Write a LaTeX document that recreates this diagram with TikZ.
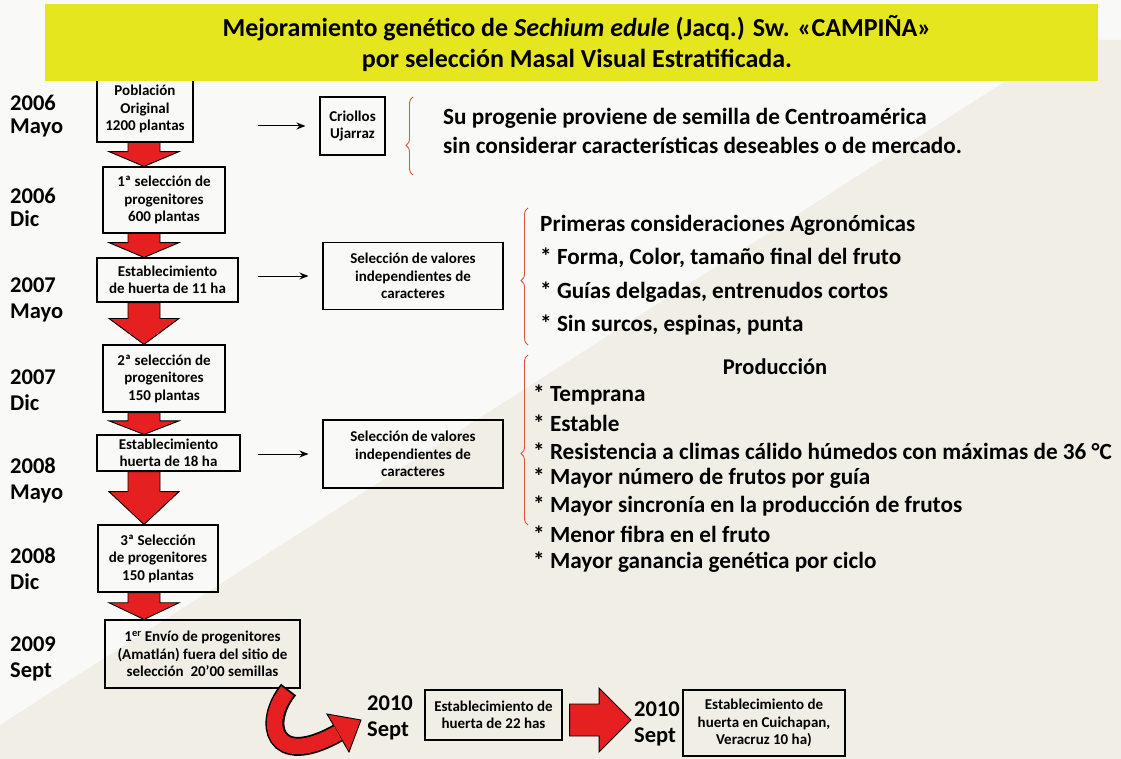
\documentclass[tikz,border=0pt]{standalone}
\usepackage{fontspec}
\setmainfont{Carlito}
\usetikzlibrary{calc,decorations.pathreplacing,arrows.meta}
\definecolor{redA}{HTML}{E62020}
\definecolor{yel}{HTML}{E6E61E}
\definecolor{braceC}{HTML}{D9553B}
\definecolor{cream}{HTML}{F1EEE5}
\definecolor{bgw}{HTML}{F9F9F8}
\newcommand\redDown[2]{%
  \path[redarrow] let \p1=(#1.south), \p2=(#2.north), \p3=($(\p1)!0.38!(\p2)$) in
  (128pt,\y1) -- (160pt,\y1) -- (160pt,\y3) -- (179pt,\y3) -- (144pt,\y2) -- (109pt,\y3) -- (128pt,\y3) -- cycle;}
\begin{document}
\begin{tikzpicture}[x=1pt,y=-1pt,
  box/.style={draw, line width=1.1pt, align=center, inner sep=0pt,
    font=\bfseries\fontsize{15}{17.5}\selectfont},
  year/.style={anchor=west, align=left, inner sep=0pt, font=\bfseries\fontsize{22.5}{26}\selectfont},
  big/.style={anchor=west, align=left, inner sep=0pt, font=\bfseries\fontsize{23.2}{29}\selectfont},
  redarrow/.style={fill=redA, draw=black, line width=0.9pt, line join=miter},
  thinarrow/.style={-{Stealth[length=9pt,width=7pt]}, line width=1pt, shorten >=14pt},
  redbrace/.style={draw=braceC, line width=0.9pt, decorate, decoration={brace, amplitude=7pt, aspect=#1}}]
% background
\fill[bgw] (0,0) rectangle (1121,759);
\fill[cream] (0,725) -- (1070,40) -- (1121,40) -- (1121,759) -- (0,759) -- cycle;
\useasboundingbox (0,0) rectangle (1121,759);

% left column boxes
\node[box, minimum width=96pt, minimum height=66pt] (b1) at (145,109) {Población\\Original\\1200 plantas};
\node[box, minimum width=122pt, minimum height=66pt] (b2) at (164,200) {1ª selección de\\progenitores\\600 plantas};
\node[box, minimum width=141pt, minimum height=44pt] (b3) at (167.5,280) {Establecimiento\\de huerta de 11 ha};
\node[box, minimum width=122pt, minimum height=67pt] (b4) at (164,378.5) {2ª selección de\\progenitores\\150 plantas};
\node[box, minimum width=143pt, minimum height=36pt] (b5) at (168.5,453) {Establecimiento\\huerta de 18 ha};
\node[box, minimum width=120pt, minimum height=67pt] (b6) at (158,558.5) {3ª Selección\\de progenitores\\150 plantas};
\node[box, minimum width=195pt, minimum height=68pt] (b7) at (202.5,654) {1\textsuperscript{er} Envío de progenitores\\(Amatlán) fuera del sitio de\\selección\ \ 20’00 semillas};
\node[box, minimum width=137pt, minimum height=50pt] (b8) at (493.5,715) {Establecimiento de\\huerta de 22 has};
\node[box, minimum width=162pt, minimum height=66pt] (b9) at (764,723) {Establecimiento de\\huerta en Cuichapan,\\Veracruz 10 ha)};

% middle boxes
\node[box, minimum width=65pt, minimum height=58pt] (crio) at (352.5,126) {Criollos\\Ujarraz};
\node[box, minimum width=180pt, minimum height=67pt] (sel1) at (413,276) {Selección de valores\\independientes de\\caracteres};
\node[box, minimum width=180pt, minimum height=68pt] (sel2) at (413,454) {Selección de valores\\independientes de\\caracteres};

% title band
\fill[yel] (45,4) rectangle (1098,81);
\node[inner sep=0pt, align=center, font=\bfseries\fontsize{26}{31}\selectfont] (title) at (577,43)
  {Mejoramiento genético de \textit{Sechium edule} (Jacq.) Sw. «CAMPIÑA»\\por selección Masal Visual Estratificada.};

% year labels
\node[year, font=\bfseries\fontsize{22.5}{23}\selectfont] (y1) at (10,116) {2006\\Mayo};
\node[year, font=\bfseries\fontsize{22.5}{23}\selectfont] (y2) at (10,207) {2006\\Dic};
\node[year] (y3) at (10,300) {2007\\Mayo};
\node[year] (y4) at (10,390) {2007\\Dic};
\node[year] (y5) at (10,480) {2008\\Mayo};
\node[year] (y6) at (10,569) {2008\\Dic};
\node[year] (y7) at (10,659) {2009\\Sept};
\node[year] (y8) at (367,718) {2010\\Sept};
\node[year] (y9) at (634,724) {2010\\Sept};

% red down arrows
\redDown{b1}{b2}
\redDown{b2}{b3}
\redDown{b3}{b4}
\redDown{b4}{b5}
\redDown{b5}{b6}
\redDown{b6}{b7}

% right block arrow
\path[redarrow] let \p1=($(b8.east)+(7,5)$), \p2=($(y9.west)+(-3,0)$), \p3=($(\p1)!0.48!(\p2)$) in
  (\x1,\y1+16pt) -- (\x3,\y1+16pt) -- (\x3,\y1+32pt) -- (\x2,\y1) -- (\x3,\y1-32pt) -- (\x3,\y1-16pt) -- (\x1,\y1-16pt) -- cycle;

% curved arrow
\coordinate (cs) at ($(b7.south east)+(-12,1)$);
\coordinate (ce) at (338,733);
\coordinate (ctip) at (361,720);
\draw[line width=19pt, black] (cs) .. controls (262,722) and (272,770) .. (ce);
\path[redarrow] (327,714) -- (ctip) -- (349,752) -- cycle;
\draw[line width=15.5pt, redA, shorten <=1.8pt] (cs) .. controls (262,722) and (272,770) .. (ce);

% thin arrows
\coordinate (t1) at (258,126);
\coordinate (t2) at (258,276);
\coordinate (t3) at (258,454);
\draw[thinarrow] (t1) -- (crio.west);
\draw[thinarrow] (t2) -- (sel1.west);
\draw[thinarrow] (t3) -- (sel2.west);

% braces
\draw[redbrace=0.38] (413,175) -- (413,97);
\draw[redbrace=0.47] (528,345) -- (528,208);
\draw[redbrace=0.42] (528,525) -- (528,355);

% right texts
\node[big] (su) at (443,131) {Su progenie proviene de semilla de Centroamérica\\sin considerar características deseables o de mercado.};
\node[big] (pc) at (540,225) {Primeras consideraciones Agronómicas};
\node[big] (a1) at (540,258) {* Forma, Color, tamaño final del fruto};
\node[big] (a2) at (540,292) {* Guías delgadas, entrenudos cortos};
\node[big] (a3) at (540,325) {* Sin surcos, espinas, punta};
\node[inner sep=0pt, font=\bfseries\fontsize{22.5}{24}\selectfont] (prod) at (775,367) {Producción};
\node[big] (p1) at (533,395) {* Temprana};
\node[big] (p2) at (533,423) {* Estable};
\node[big] (p3) at (533,451) {* Resistencia a climas cálido húmedos con máximas de 36 °C};
\node[big] (p4) at (533,478) {* Mayor número de frutos por guía};
\node[big] (p5) at (533,506) {* Mayor sincronía en la producción de frutos};
\node[big] (p6) at (533,534) {* Menor fibra en el fruto};
\node[big] (p7) at (533,562) {* Mayor ganancia genética por ciclo};
\end{tikzpicture}
\end{document}
